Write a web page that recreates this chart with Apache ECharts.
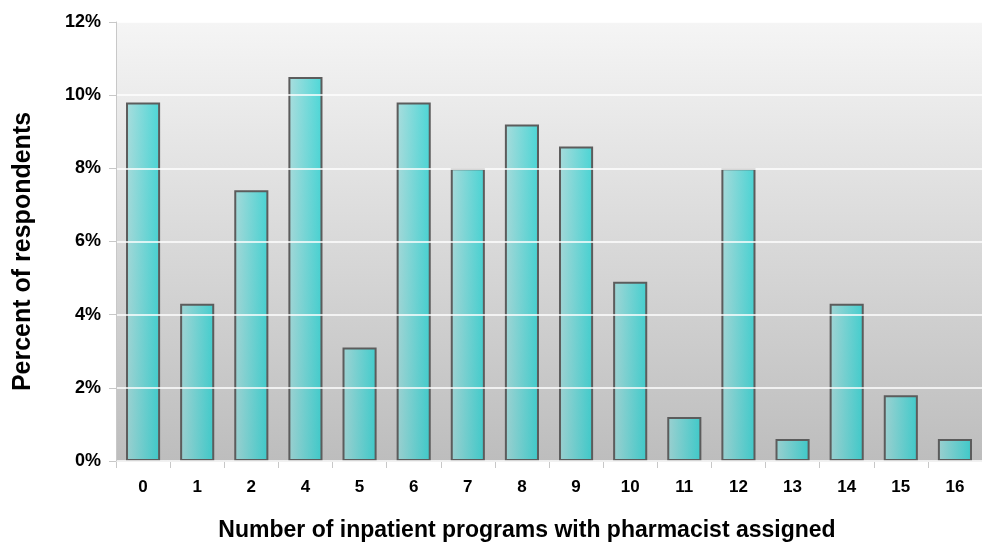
<!DOCTYPE html>
<html>
<head>
<meta charset="utf-8">
<script src="https://cdn.jsdelivr.net/npm/echarts@6/dist/echarts.min.js"></script>
<style>
  html, body { margin: 0; padding: 0; background: #ffffff; }
  #chart { width: 982px; height: 544px; }
</style>
</head>
<body>
<div id="chart"></div>
<script>
// Number of inpatient programs with a pharmacist assigned (no respondents reported 3)
const categories = ['0', '1', '2', '4', '5', '6', '7', '8', '9', '10', '11', '12', '13', '14', '15', '16'];
// Percent of respondents per category
const percentValues = [9.8, 4.3, 7.4, 10.5, 3.1, 9.8, 8.0, 9.2, 8.6, 4.9, 1.2, 8.0, 0.6, 4.3, 1.8, 0.6];
const yTicks = [0, 2, 4, 6, 8, 10, 12];

const chart = echarts.init(document.getElementById('chart'), null, { renderer: 'canvas' });
const font = 'Liberation Sans, Arial, sans-serif';

chart.setOption({
  animation: false,
  grid: {
    left: 116, right: 0, top: 22, bottom: 83,
    outerBoundsMode: 'none',
    containLabel: false,
    show: true,
    borderWidth: 0,
    backgroundColor: new echarts.graphic.LinearGradient(0, 0, 0, 1, [
      { offset: 0, color: '#f5f5f5' },
      { offset: 1, color: '#bdbdbd' }
    ])
  },
  xAxis: {
    type: 'category',
    data: categories,
    name: 'Number of inpatient programs with pharmacist assigned',
    nameLocation: 'middle',
    nameGap: 58,
    nameTextStyle: {
      fontFamily: font, fontWeight: 'bold', fontSize: 23, color: '#000',
      padding: [0, 44, 0, 0]
    },
    axisLine: { show: true, lineStyle: { color: '#c8c8c8', width: 1 } },
    axisTick: { show: true, alignWithLabel: false, length: 7, lineStyle: { color: '#c8c8c8' } },
    axisLabel: { fontFamily: font, fontWeight: 'bold', fontSize: 17, color: '#000', margin: 18 }
  },
  yAxis: {
    type: 'value',
    min: yTicks[0],
    max: yTicks[yTicks.length - 1],
    interval: 2,
    z: 3,
    name: 'Percent of respondents',
    nameLocation: 'middle',
    nameGap: 80,
    nameTextStyle: {
      fontFamily: font, fontWeight: 'bold', fontSize: 25, color: '#000',
      padding: [0, 20, 0, 0]
    },
    axisLine: { show: true, lineStyle: { color: '#c8c8c8', width: 1 } },
    axisTick: { show: true, length: 7, lineStyle: { color: '#c8c8c8' } },
    axisLabel: {
      fontFamily: font, fontWeight: 'bold', fontSize: 18, color: '#000', margin: 15,
      formatter: v => v + '%'
    },
    splitLine: { show: true, lineStyle: { color: 'rgba(255,255,255,0.75)', width: 2 } }
  },
  series: [{
    type: 'bar',
    data: percentValues,
    barCategoryGap: '37%',
    itemStyle: {
      color: new echarts.graphic.LinearGradient(0, 0, 1, 0, [
        { offset: 0, color: 'rgba(140,215,215,0.68)' },
        { offset: 1, color: 'rgba(0,205,205,0.68)' }
      ]),
      borderColor: '#5c5c5c',
      borderWidth: 2
    }
  }]
});
</script>
</body>
</html>
